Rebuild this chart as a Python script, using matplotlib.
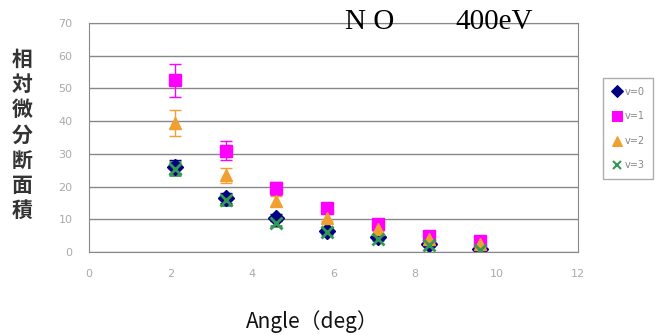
import matplotlib
matplotlib.use('Agg')
import matplotlib.pyplot as plt
from matplotlib.lines import Line2D

# angles (deg) and relative differential cross sections
angle = [2.1, 3.35, 4.6, 5.85, 7.1, 8.35, 9.6]
v0 = [26.0, 16.5, 10.5, 6.5, 4.5, 2.5, 1.0]
v1 = [52.5, 31.0, 19.5, 13.5, 8.5, 5.0, 3.5]
v2 = [39.5, 23.5, 15.5, 10.5, 7.0, 4.0, 2.5]
v3 = [25.5, 16.0, 9.0, 6.0, 4.0, 2.0, 0.5]
err0 = [2.0, 1.5, 1.0, 0.7, 0.5, 0.3, 0.2]
err1 = [5.0, 3.0, 2.0, 1.3, 0.9, 0.5, 0.4]
err2 = [4.0, 2.3, 1.5, 1.0, 0.7, 0.4, 0.3]
err3 = [2.0, 1.5, 1.0, 0.6, 0.4, 0.2, 0.1]
labels = ['v=0', 'v=1', 'v=2', 'v=3']

fig = plt.figure(figsize=(6.55, 3.35), dpi=100)
ax = fig.add_axes([0.1359, 0.2478, 0.7465, 0.6835])

series = [
    (v0, err0, 'D', '#000080', 8),
    (v1, err1, 's', '#ff00ff', 9),
    (v2, err2, '^', '#f0a030', 9),
    (v3, err3, 'x', '#339955', 8),
]
handles = []
for (vals, errs, mk, col, ms), lab in zip(series, labels):
    mew = 2 if mk == 'x' else 1
    ax.errorbar(angle, vals, yerr=errs, fmt=mk, color=col, ms=ms, mew=mew,
                ecolor=col, elinewidth=1, capsize=4)
    handles.append(Line2D([], [], ls='none', marker=mk, color=col, ms=ms * 0.75,
                          mew=mew * 0.75, label=lab))

ax.set_xlim(0, 12)
ax.set_ylim(0, 70)
ax.set_xticks(range(0, 13, 2))
ax.set_yticks(range(0, 71, 10))
ax.yaxis.grid(True, color='#888888', linewidth=1)
ax.set_axisbelow(True)
for s in ax.spines.values():
    s.set_color('#888888')
ax.tick_params(colors='#aaaaaa', labelsize=8, length=0)
ax.tick_params(axis='y', pad=12)
ax.tick_params(axis='x', pad=12)

# legend
leg = fig.legend(handles=handles, loc='upper left', bbox_to_anchor=(603 / 655, 1 - 78 / 335),
                 fontsize=7, frameon=True, fancybox=False, edgecolor='#999999',
                 handlelength=1.0, handletextpad=0.3, borderpad=0.9, labelspacing=1.5,
                 borderaxespad=0)
leg.get_frame().set_linewidth(1)
for t in leg.get_texts():
    t.set_color('#888888')

# title
fig.text(345 / 655, 1 - 29 / 335, 'N O', family='Liberation Serif', fontsize=21, va='baseline')
fig.text(455 / 655, 1 - 29 / 335, '400eV', family='Liberation Serif', fontsize=21, va='baseline')

# y label stacked vertically
fig.text(22 / 655, 1 - 135 / 335, '\n'.join('相対微分断面積'), family=['Noto Sans CJK JP'],
         fontsize=15, fontweight='bold', color='#333333', ha='center', va='center',
         linespacing=1.25)

# x label
fig.text(312 / 655, 1 - 328 / 335, 'Angle（deg）', family=['Noto Sans CJK JP'],
         fontsize=15, ha='center', va='baseline', color='#111111')

fig.savefig('out.png', dpi=100)
